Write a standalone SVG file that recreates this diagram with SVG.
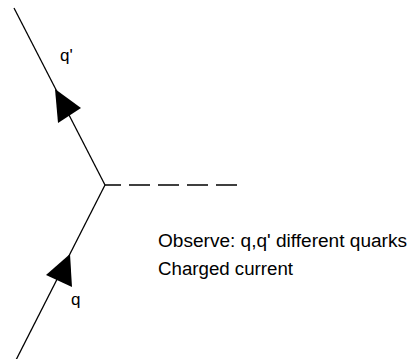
<svg xmlns="http://www.w3.org/2000/svg" width="409" height="359" viewBox="0 0 409 359">
<style>
.f{stroke:#000;stroke-width:1.3;fill:none}
.w{stroke:#000;stroke-width:1.6;fill:none;stroke-dasharray:21 8;stroke-dashoffset:5}
.a{fill:#000;stroke:none}
.t{font-family:"Liberation Sans",Arial,sans-serif;font-size:18px;fill:#000}
.l{font-family:"Liberation Sans",Arial,sans-serif;font-size:17px;fill:#000}
</style>
<rect width="409" height="359" fill="#fff"/>
<g id="connectors">
<line id="q-prime-line" class="f" x1="14" y1="8" x2="105" y2="185"/>
<line id="q-line" class="f" x1="105" y1="185" x2="16" y2="360"/>
<line id="boson-line" class="w" x1="105" y1="185" x2="237" y2="185"/>
<polygon class="a" points="55,89 58,123 81,108"/>
<polygon class="a" points="70,254 46,275 72,287"/>
</g>
<g id="label-qprime"><text class="l" x="60" y="61">q'</text></g>
<g id="label-q"><text class="l" x="71" y="305">q</text></g>
<g id="note"><text class="t" x="158" y="247" textLength="249" lengthAdjust="spacingAndGlyphs">Observe: q,q' different quarks</text>
<text class="t" x="158" y="275" textLength="135" lengthAdjust="spacingAndGlyphs">Charged current</text></g>
</svg>
